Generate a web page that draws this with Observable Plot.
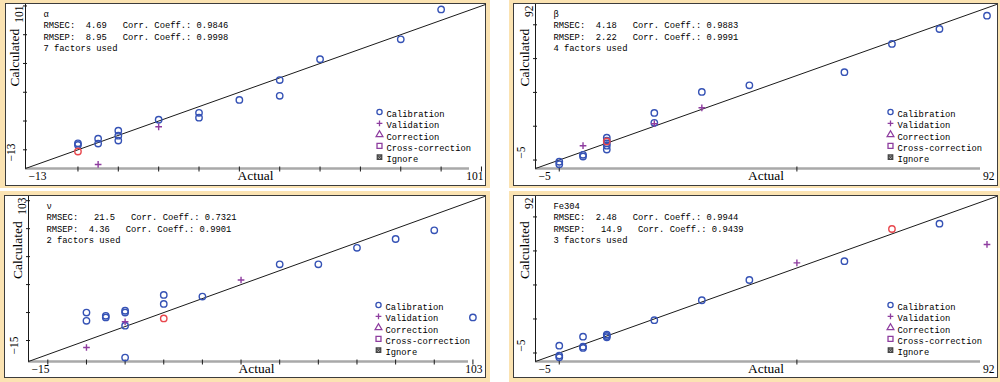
<!DOCTYPE html>
<html><head><meta charset="utf-8">
<script src="https://cdn.jsdelivr.net/npm/d3@7"></script>
<script src="https://cdn.jsdelivr.net/npm/@observablehq/plot@0.6"></script>
<style>
html,body{margin:0;padding:0;background:#fff}
#root{position:relative;width:1000px;height:382px;overflow:hidden;background:#fff}
.peach{position:absolute;background:#fbe3b2}
.frame{position:absolute;box-sizing:border-box;border:1px solid #3c3c3c;background:#fff}
#root svg{position:absolute}
</style></head>
<body><div id="root"></div>
<script>
// ---------------- data ----------------
const panelNames = ["α", "β", "ν", "Fe304"];
const rmsecValues = ["4.69", "4.18", "21.5", "2.48"];
const corrCalValues = ["0.9846", "0.9883", "0.7321", "0.9944"];
const rmsepValues = ["8.95", "2.22", "4.36", "14.9"];
const corrValValues = ["0.9998", "0.9991", "0.9901", "0.9439"];
const factorsUsed = [7, 4, 2, 3];
const axisMin = [-13, -5, -15, -5];
const axisMax = [101, 92, 103, 92];
const xTickValues = [
  [0, 10, 20, 30, 40, 50, 60, 70, 80, 90, 100],
  [0, 50],
  [-10, 0, 10, 20, 30, 40, 50, 60, 70, 80, 90, 100],
  [0, 50]
];
const yTickValues = [
  [0, 20, 40, 60, 80, 100],
  [0, 20, 40, 60, 80],
  [0, 20, 40, 60, 80, 100],
  [0, 20, 40, 60, 80]
];
const legendLabels = ["Calibration", "Validation", "Correction", "Cross-correction", "Ignore"];
const xAxisTitle = "Actual";
const yAxisTitle = "Calculated";

// α
const alphaCalActual = [0, 0, 5, 5, 10, 10, 10, 20, 30, 30, 40, 50, 50, 60, 80, 90];
const alphaCalCalc   = [4.5, 3.4, 7.7, 4.3, 13.3, 9.8, 6.4, 20.9, 25.7, 22.3, 34.7, 48.5, 37.5, 63.0, 76.8, 97.6];
const alphaValActual = [5, 20];
const alphaValCalc   = [-10.2, 16.0];
const alphaHiActual  = [0];
const alphaHiCalc    = [-1.2];
// β
const betaCalActual = [0, 0, 5, 5, 10, 10, 10, 10, 10, 20, 20, 30, 40, 60, 70, 80, 90];
const betaCalCalc   = [-1.0, -2.5, 3.1, 2.1, 13.2, 11.5, 9.9, 8.5, 6.2, 27.9, 22.0, 40.3, 44.2, 52.0, 68.7, 77.5, 85.4];
const betaValActual = [5, 20, 30];
const betaValCalc   = [8.5, 21.5, 30.9];
const betaHiActual  = [10];
const betaHiCalc    = [11.0];
// ν
const nuCalActual = [0, 0, 5, 5, 10, 10, 10, 10, 20, 20, 30, 50, 60, 70, 80, 90, 100];
const nuCalCalc   = [20.0, 14.1, 17.7, 16.5, 21.3, 20.0, 10.6, -12.2, 32.6, 26.2, 31.4, 54.5, 54.5, 66.3, 72.6, 78.8, 16.5];
const nuValActual = [0, 10, 40];
const nuValCalc   = [-5.0, 13.4, 43.3];
const nuHiActual  = [20];
const nuHiCalc    = [15.8];
// Fe304
const feCalActual = [0, 0, 0, 5, 5, 5, 10, 10, 10, 20, 30, 40, 60, 80];
const feCalCalc   = [4.3, -1.5, -2.5, 9.6, 3.7, 3.0, 10.8, 10.0, 9.2, 19.3, 31.0, 42.9, 54.0, 76.0];
const feValActual = [50, 90];
const feValCalc   = [53.0, 63.8];
const feHiActual  = [70];
const feHiCalc    = [72.9];

const calActual = [alphaCalActual, betaCalActual, nuCalActual, feCalActual];
const calCalc = [alphaCalCalc, betaCalCalc, nuCalCalc, feCalCalc];
const valActual = [alphaValActual, betaValActual, nuValActual, feValActual];
const valCalc = [alphaValCalc, betaValCalc, nuValCalc, feValCalc];
const hiActual = [alphaHiActual, betaHiActual, nuHiActual, feHiActual];
const hiCalc = [alphaHiCalc, betaHiCalc, nuHiCalc, feHiCalc];

// ---------------- layout / style ----------------
const layout = [
  {peach: [0, 0, 490, 188],   frame: [5, 3, 481, 183],   px: [25, 485], py: [4, 168]},
  {peach: [509, 0, 491, 188], frame: [513, 3, 485, 183], px: [535, 996], py: [4, 168]},
  {peach: [0, 191, 490, 191], frame: [4, 195, 482, 183], px: [28, 484], py: [196, 361]},
  {peach: [509, 191, 491, 191], frame: [513, 195, 485, 183], px: [535, 996], py: [196, 361]}
];
const blue = "#3552b5", purple = "#8e3d9f", red = "#e8474d", ink = "#1a1a1a";
const mono = "'Liberation Mono', 'DejaVu Sans Mono', monospace";
const serif = "'Liberation Serif', 'DejaVu Serif', serif";
const nb = s => s.replace(/ /g, "\u00a0");
const fmt = v => String(v).replace("-", "\u2212");
const monoSize = 8.8;

const root = document.getElementById("root");
function box(cls, r) {
  const d = document.createElement("div");
  d.className = cls;
  Object.assign(d.style, {left: r[0] + "px", top: r[1] + "px", width: r[2] + "px", height: r[3] + "px"});
  root.appendChild(d);
}

for (let k = 0; k < 4; k++) {
  const L = layout[k];
  box("peach", L.peach);
  box("frame", L.frame);
  const [fx, fy, fw, fh] = L.frame;
  const sx = fx + 1, sy = fy + 1, sw = fw - 2, sh = fh - 2;
  const mL = L.px[0] - sx, mR = sx + sw - L.px[1], mT = L.py[0] - sy, mB = sy + sh - L.py[1];
  const lo = axisMin[k], hi = axisMax[k];
  const cal = calActual[k].map((a, i) => ({a, c: calCalc[k][i]}));
  const val = valActual[k].map((a, i) => ({a, c: valCalc[k][i]}));
  const hil = hiActual[k].map((a, i) => ({a, c: hiCalc[k][i]}));
  const pad1 = parseFloat(rmsecValues[k]) >= 10 ? "   " : "  ";
  const pad2 = parseFloat(rmsepValues[k]) >= 10 ? "   " : "  ";
  const stats = [
    panelNames[k],
    nb(`RMSEC:${pad1}${rmsecValues[k]}   Corr. Coeff.: ${corrCalValues[k]}`),
    nb(`RMSEP:${pad2}${rmsepValues[k]}   Corr. Coeff.: ${corrValValues[k]}`),
    nb(`${factorsUsed[k]} factors used`)
  ].join("\n");

  const legendSymbols = [
    {symbol: "circle", stroke: blue, r: 2.6},
    {symbol: "plus", stroke: purple, r: 2.0},
    {symbol: "triangle", stroke: purple, r: 2.5},
    {symbol: "square", stroke: purple, r: 2.8},
    {symbol: "square", stroke: "#444", r: 2.5}
  ];
  const legendMarks = legendSymbols.map((s, i) =>
    Plot.dot([legendLabels[i]], {frameAnchor: "bottom-right", dx: -106, dy: -56.5 + 11.3 * i,
      symbol: s.symbol, r: s.r, stroke: s.stroke, fill: "none", strokeWidth: 1.3}));
  legendMarks.push(Plot.dot([legendLabels[4]], {frameAnchor: "bottom-right", dx: -106, dy: -56.5 + 11.3 * 4,
      symbol: "times", r: 2.1, stroke: "#444", strokeWidth: 1.1}));

  const plot = Plot.plot({
    width: sw, height: sh,
    marginLeft: mL, marginRight: mR, marginTop: mT, marginBottom: mB,
    x: {domain: [lo, hi]},
    y: {domain: [lo, hi]},
    style: {background: "transparent", overflow: "visible"},
    marks: [
      Plot.ruleY([lo], {stroke: "#a9a9a9", strokeWidth: 2.5, insetRight: 16}),
      Plot.axisX({ticks: xTickValues[k], tickSize: 5, dy: -1.5, tickFormat: () => "", label: null, stroke: ink}),
      Plot.axisY({ticks: yTickValues[k], tickSize: 4, dx: 2, tickFormat: () => "", label: null, stroke: ink}),
      Plot.ruleX([lo], {stroke: ink, strokeWidth: 1}),
      Plot.line([[lo, lo], [hi, hi]], {stroke: ink, strokeWidth: 1}),
      Plot.dot(cal, {x: "a", y: "c", r: 3.2, stroke: blue, strokeWidth: 1.4}),
      Plot.dot(hil, {x: "a", y: "c", r: 3.2, stroke: red, strokeWidth: 1.4}),
      Plot.dot(val, {x: "a", y: "c", symbol: "plus", r: 2.3, stroke: purple, strokeWidth: 1.4}),
      Plot.text([stats], {frameAnchor: "top-left", textAnchor: "start", lineAnchor: "top", dx: 18, dy: 4,
        lineHeight: 11.5 / monoSize, fontFamily: mono, fontSize: monoSize, fill: "#000"}),
      Plot.text([legendLabels.join("\n")], {frameAnchor: "bottom-right", textAnchor: "start", lineAnchor: "top",
        dx: -99, dy: -59.4, lineHeight: 11.3 / monoSize, fontFamily: mono, fontSize: monoSize, fill: "#000"}),
      ...legendMarks,
      // axis end labels & titles
      Plot.text([fmt(lo)], {frameAnchor: "bottom-left", textAnchor: "start", dx: 3, dy: 11, fontFamily: serif, fontSize: 11.5, fill: "#000"}),
      Plot.text([fmt(hi)], {frameAnchor: "bottom-right", textAnchor: "end", dx: -2, dy: 11, fontFamily: serif, fontSize: 11.5, fill: "#000"}),
      Plot.text([xAxisTitle], {frameAnchor: "bottom", dy: 11, fontFamily: serif, fontSize: 13.5, fill: "#000"}),
      Plot.text([fmt(hi)], {frameAnchor: "top-left", rotate: -90, textAnchor: "end", dx: -11, dy: 1, fontFamily: serif, fontSize: 11.5, fill: "#000"}),
      Plot.text([fmt(lo)], {frameAnchor: "bottom-left", rotate: -90, textAnchor: "middle", dx: -11, dy: -16, fontFamily: serif, fontSize: 11.5, fill: "#000"}),
      Plot.text([yAxisTitle], {frameAnchor: "left", rotate: -90, dx: -11, fontFamily: serif, fontSize: 13.5, fill: "#000"})
    ]
  });
  plot.style.left = sx + "px";
  plot.style.top = sy + "px";
  root.appendChild(plot);
}
</script></body></html>
